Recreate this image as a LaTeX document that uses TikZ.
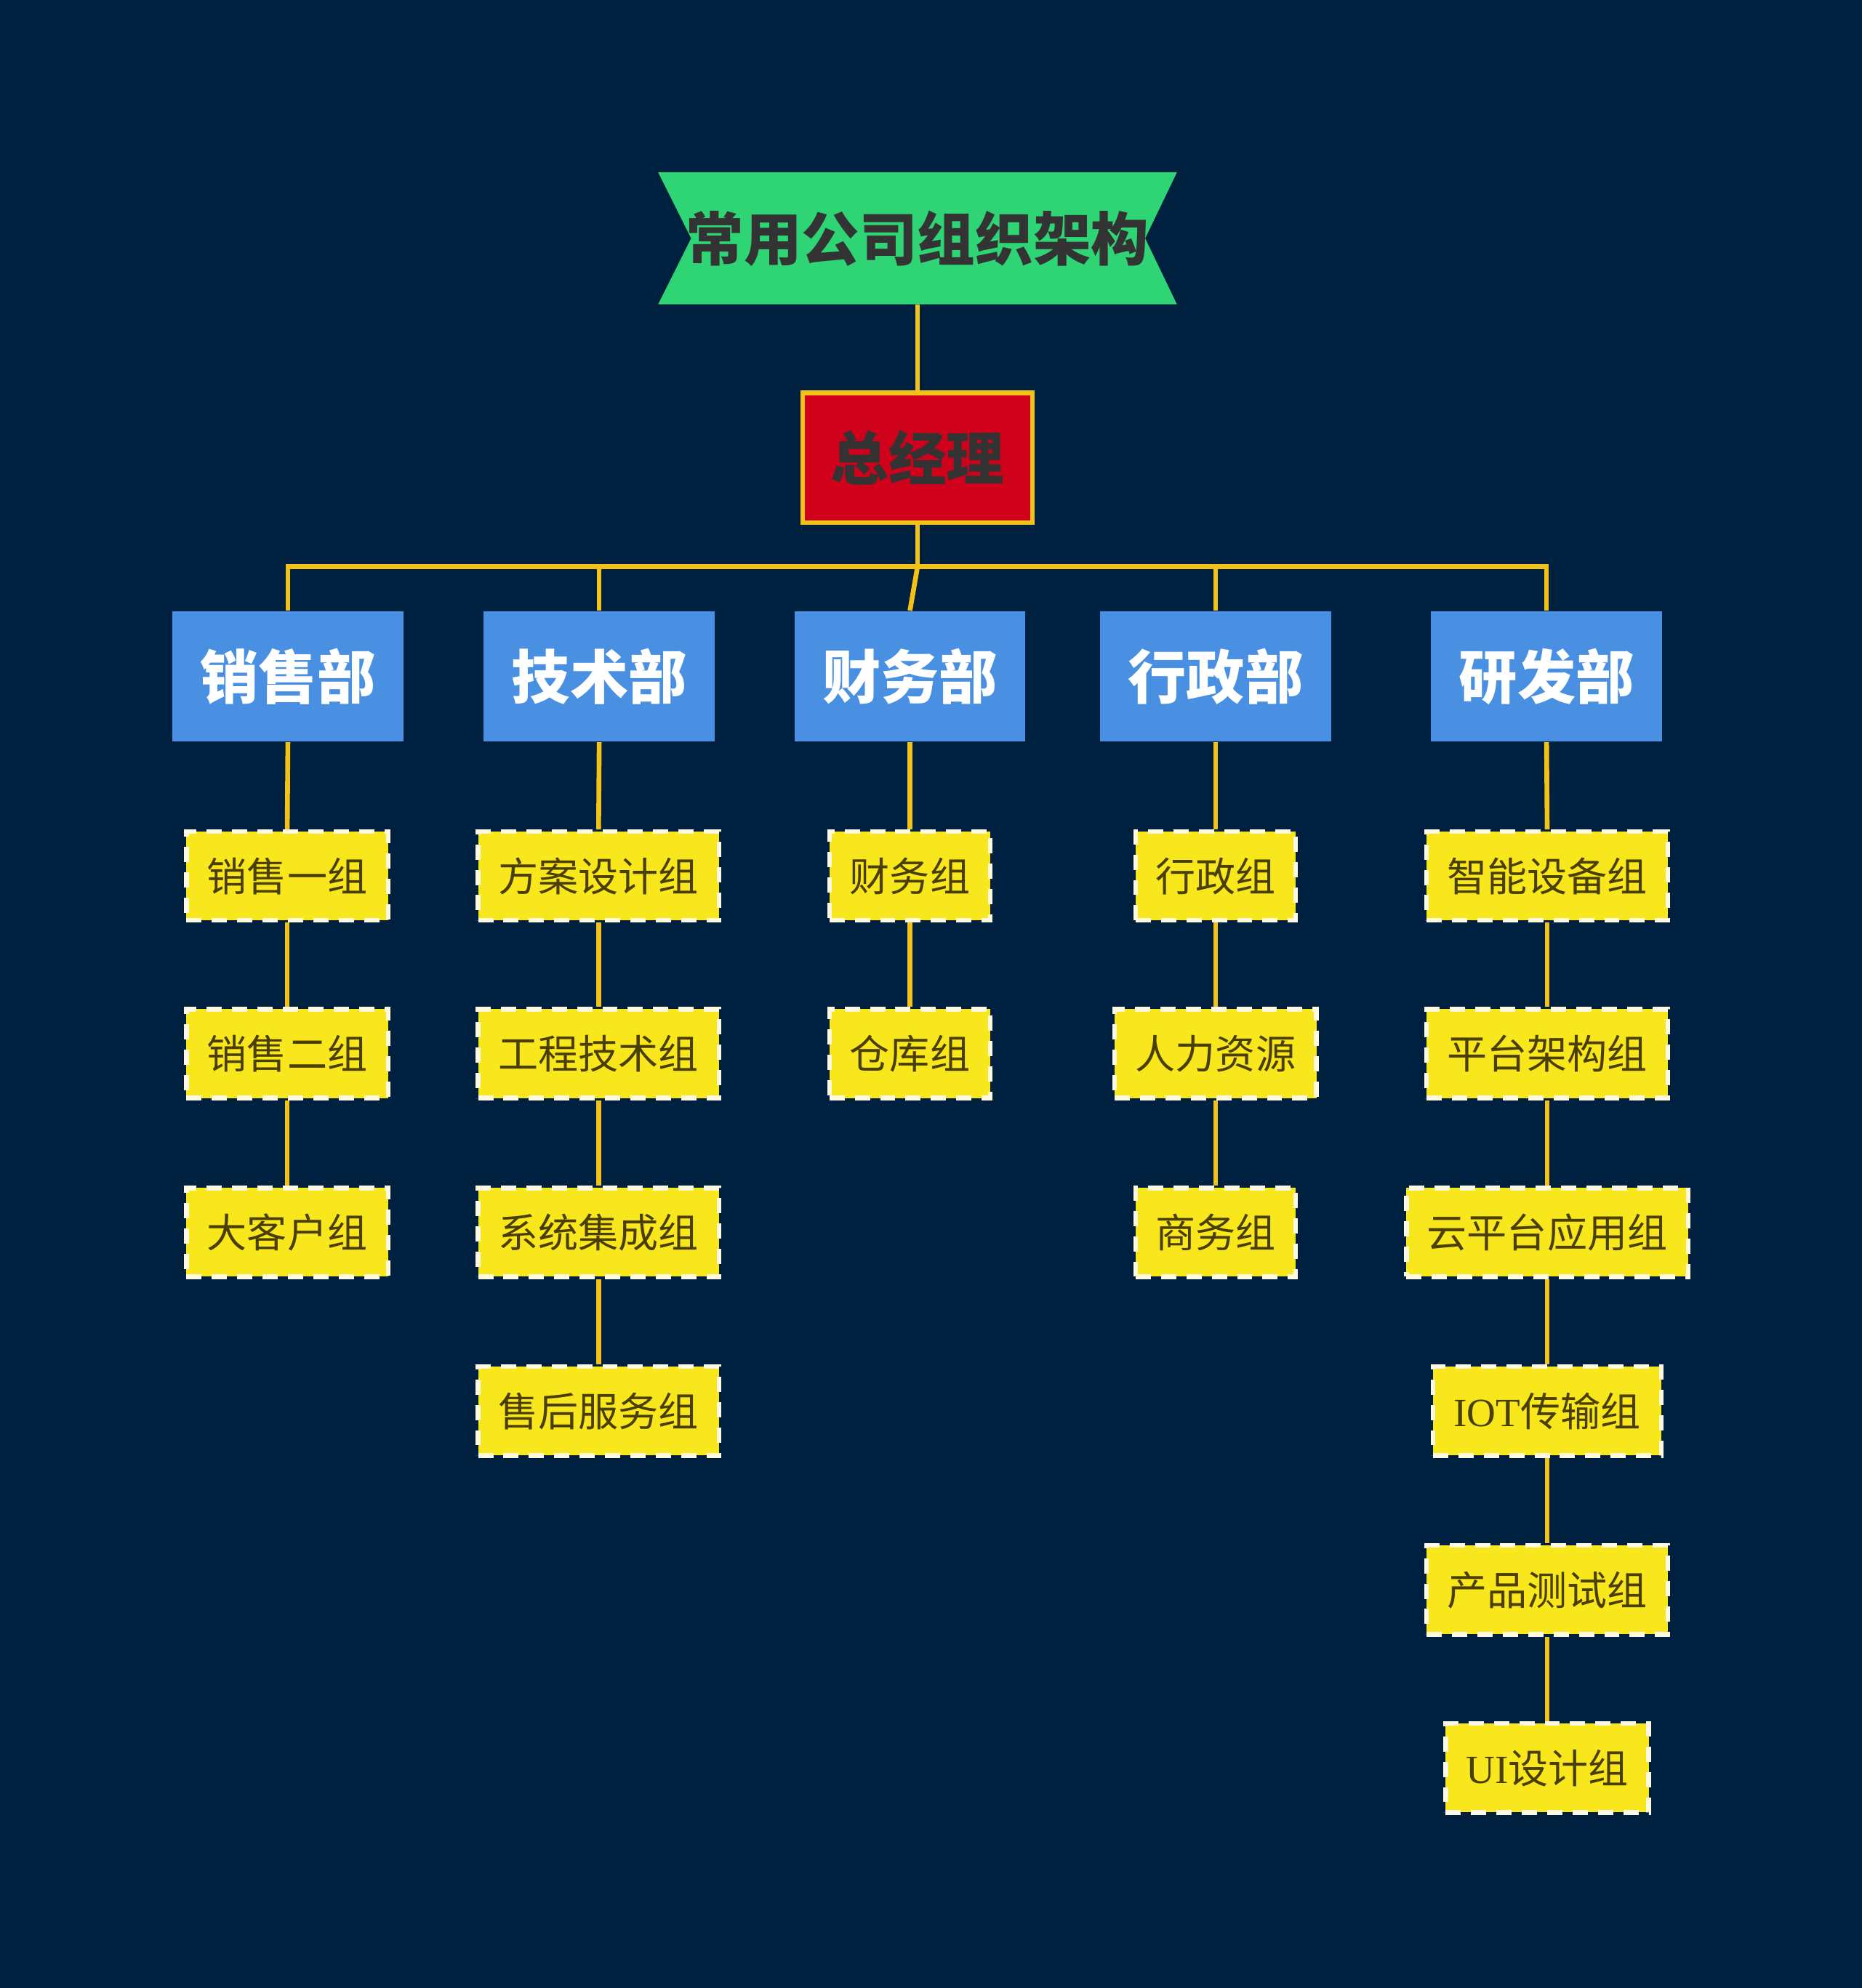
\documentclass[tikz,border=0pt]{standalone}
\usepackage{fontspec}
\newfontfamily\cjk{Noto Sans CJK SC}
\newfontfamily\lat{Liberation Serif}
\definecolor{bgc}{HTML}{00203F}
\definecolor{bannerc}{HTML}{2FD574}
\definecolor{gmred}{HTML}{D0021B}
\definecolor{gold}{HTML}{F2C218}
\definecolor{deptc}{HTML}{4A90E2}
\definecolor{leafc}{HTML}{F8E71C}
\definecolor{dashc}{HTML}{FFF9E3}
\definecolor{darktxt}{HTML}{333333}
\definecolor{leaftxt}{HTML}{4A3E00}
\tikzset{
  conn/.style={draw=gold, line width=1.9pt},
  titlebox/.style={rectangle, inner sep=0pt, minimum width=204.5pt, minimum height=52pt, font=\cjk\bfseries\fontsize{22.8pt}{24pt}\selectfont, text=darktxt},
  gmbox/.style={rectangle, inner sep=0pt, fill=gmred, draw=gold, line width=1.9pt, minimum width=90.6pt, minimum height=51.1pt, font=\cjk\bfseries\fontsize{22.8pt}{24pt}\selectfont, text=darktxt},
  deptbox/.style={rectangle, inner sep=0pt, fill=deptc, minimum width=91pt, minimum height=51.5pt, font=\cjk\bfseries\fontsize{23pt}{24pt}\selectfont, text=white},
  leaf/.style={rectangle, inner sep=0pt, fill=leafc, draw=dashc, line width=1.8pt, dash pattern=on 6pt off 4pt, minimum height=35pt, font=\cjk\fontsize{15.8pt}{18pt}\selectfont, text=leaftxt},
}
\begin{document}
\begin{tikzpicture}[x=0.5pt,y=-0.5pt]
\fill[bgc] (0,0) rectangle (1468,1568);
\useasboundingbox (0,0) rectangle (1468,1568);
% title banner
\fill[bannerc] (519,136) -- (928,136) -- (903,188) -- (928,240) -- (519,240) -- (545,188) -- cycle;
\node[titlebox] (title) at (723.5,188) {常用公司组织架构};
% general manager
\node[gmbox] (gm) at (723.5,361) {总经理};
% departments
\node[deptbox] (sales) at (227,533.5) {销售部};
\node[deptbox] (tech) at (472.5,533.5) {技术部};
\node[deptbox] (fin) at (717.5,533.5) {财务部};
\node[deptbox] (adm) at (958.5,533.5) {行政部};
\node[deptbox] (rd) at (1219.5,533.5) {研发部};
\coordinate (bus) at (723.5,447);
% leaves: sales
\node[leaf, minimum width=79.5pt] (s1) at (226.5,691) {销售一组};
\node[leaf, minimum width=79.5pt] (s2) at (226.5,831) {销售二组};
\node[leaf, minimum width=79.5pt] (s3) at (226.5,972) {大客户组};
% tech
\node[leaf, minimum width=95pt] (t1) at (472,691) {方案设计组};
\node[leaf, minimum width=95pt] (t2) at (472,831) {工程技术组};
\node[leaf, minimum width=95pt] (t3) at (472,972) {系统集成组};
\node[leaf, minimum width=95pt] (t4) at (472,1113) {售后服务组};
% finance
\node[leaf, minimum width=63.5pt] (f1) at (717.5,691) {财务组};
\node[leaf, minimum width=63.5pt] (f2) at (717.5,831) {仓库组};
% admin
\node[leaf, minimum width=63pt] (a1) at (958.5,691) {行政组};
\node[leaf, minimum width=79.5pt] (a2) at (958.5,831) {人力资源};
\node[leaf, minimum width=63pt] (a3) at (958.5,972) {商务组};
% r&d
\node[leaf, minimum width=95pt] (r1) at (1220,691) {智能设备组};
\node[leaf, minimum width=95pt] (r2) at (1220,831) {平台架构组};
\node[leaf, minimum width=111pt] (r3) at (1220,972) {云平台应用组};
\node[leaf, minimum width=90pt] (r4) at (1220,1113) {{\lat IOT}传输组};
\node[leaf, minimum width=95pt] (r5) at (1220,1254) {产品测试组};
\node[leaf, minimum width=80pt] (r6) at (1220,1394.5) {{\lat UI}设计组};
% connectors
\draw[conn] (title.south) -- (gm.north);
\draw[conn] (gm.south) -- (bus);
\draw[conn] (sales.north) |- (bus) -| (rd.north);
\draw[conn] (tech.north) -- (tech.north |- bus);
\draw[conn] (adm.north) -- (adm.north |- bus);
\draw[conn] (bus) -- (fin.north);
\draw[conn] (sales.south) -- (s1.north);
\draw[conn] (s1.south) -- (s2.north);
\draw[conn] (s2.south) -- (s3.north);
\draw[conn] (tech.south) -- (t1.north);
\draw[conn] (t1.south) -- (t2.north);
\draw[conn] (t2.south) -- (t3.north);
\draw[conn] (t3.south) -- (t4.north);
\draw[conn] (fin.south) -- (f1.north);
\draw[conn] (f1.south) -- (f2.north);
\draw[conn] (adm.south) -- (a1.north);
\draw[conn] (a1.south) -- (a2.north);
\draw[conn] (a2.south) -- (a3.north);
\draw[conn] (rd.south) -- (r1.north);
\draw[conn] (r1.south) -- (r2.north);
\draw[conn] (r2.south) -- (r3.north);
\draw[conn] (r3.south) -- (r4.north);
\draw[conn] (r4.south) -- (r5.north);
\draw[conn] (r5.south) -- (r6.north);
\end{tikzpicture}
\end{document}
